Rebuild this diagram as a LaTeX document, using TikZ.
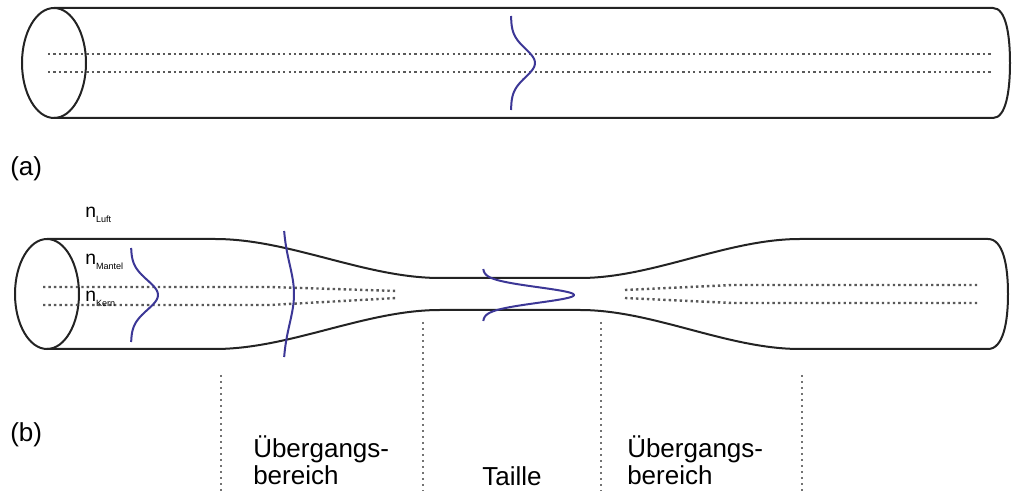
\documentclass[tikz,border=0pt]{standalone}
\usepackage{fontspec}
\setmainfont{Liberation Sans}
\definecolor{fasergrau}{RGB}{35,35,35}
\definecolor{modeblau}{RGB}{60,55,150}
\tikzset{
    faser/.style={line width=1.5pt, draw=fasergrau},
    kern/.style={line width=1.8pt, draw=black!65, dash pattern=on 1.8pt off 2.3pt},
    grenze/.style={line width=1.2pt, draw=black!55, dash pattern=on 1.2pt off 3.3pt},
    profil/.style={line width=1.5pt, draw=modeblau},
    beschr/.style={anchor=base west, inner sep=0pt, font=\fontsize{19.5}{22}\selectfont},
    brech/.style={anchor=base west, inner sep=0pt, font=\fontsize{14.5}{16}\selectfont}
}
\newcommand{\idx}[1]{\raisebox{-3.5pt}{\fontsize{6.8}{7}\selectfont #1}}
\begin{document}
\begin{tikzpicture}[x=0.75pt,y=-0.75pt]
    \useasboundingbox (0,0) rectangle (1015,491);
    % (a) untaperte Faser
    \draw[faser] (54,8) -- (993,8) .. controls (1006,8) and (1010,35) .. (1010,63)
        .. controls (1010,91) and (1006,118) .. (993,118) -- (54,118);
    \draw[faser] (54,63) ellipse [x radius=32, y radius=55];
    \draw[kern] (48,54) -- (992,54);
    \draw[kern] (48,72) -- (992,72);
    \draw[profil] plot[domain=-47:47, samples=50, smooth] ({511+24*exp(-(\x/20)^2)}, {63+\x});
    \node[beschr] (ta) at (10,176) {(a)};
    % (b) getaperte Faser: Mantel mit Taille
    \draw[faser] (47,239) -- (215,239) .. controls (290,239) and (365,278) .. (440,278)
        -- (580,278) .. controls (653,278) and (727,239) .. (800,239) -- (988,239)
        .. controls (1003,239) and (1008,265) .. (1008,294)
        .. controls (1008,323) and (1003,349) .. (988,349) -- (800,349)
        .. controls (727,349) and (653,310) .. (580,310) -- (440,310)
        .. controls (365,310) and (290,349) .. (215,349) -- (47,349);
    \draw[faser] (47,294) ellipse [x radius=32, y radius=55];
    % Kern laeuft in den Uebergangsbereichen aus
    \draw[kern] (43,287) -- (270,287) -- (397,291);
    \draw[kern] (43,305) -- (270,305) -- (397,298);
    \draw[kern] (625,290) -- (733,285) -- (978,285);
    \draw[kern] (625,298) -- (733,303) -- (978,303);
    % Modenprofile
    \draw[profil] plot[domain=-47:47, samples=50, smooth] ({131+27*exp(-(\x/21)^2)}, {295+\x});
    \draw[profil] plot[domain=-63:63, samples=50, smooth] ({283+11*exp(-(\x/42)^2)}, {294+\x});
    \draw[profil] plot[domain=-26:26, samples=80, smooth] ({483+91*exp(-(\x/11)^2)}, {295+\x});
    % Brechzahlen
    \node[brech] (nluft) at (85,218) {n\idx{Luft}};
    \node[brech] (nmantel) at (85,265) {n\idx{Mantel}};
    \node[brech] (nkern) at (85,302) {n\idx{Kern}};
    % Bereichsgrenzen
    \draw[grenze] (221,375) -- (221,491);
    \draw[grenze] (423,322) -- (423,491);
    \draw[grenze] (601,322) -- (601,491);
    \draw[grenze] (802,375) -- (802,491);
    \node[beschr] (tb) at (10,442) {(b)};
    \node[beschr] (ueb1) at (253,458) {Übergangs-};
    \node[beschr] (ber1) at (253,485) {bereich};
    \node[beschr] (taille) at (482,486) {Taille};
    \node[beschr] (ueb2) at (627,458) {Übergangs-};
    \node[beschr] (ber2) at (627,485) {bereich};
\end{tikzpicture}
\end{document}
